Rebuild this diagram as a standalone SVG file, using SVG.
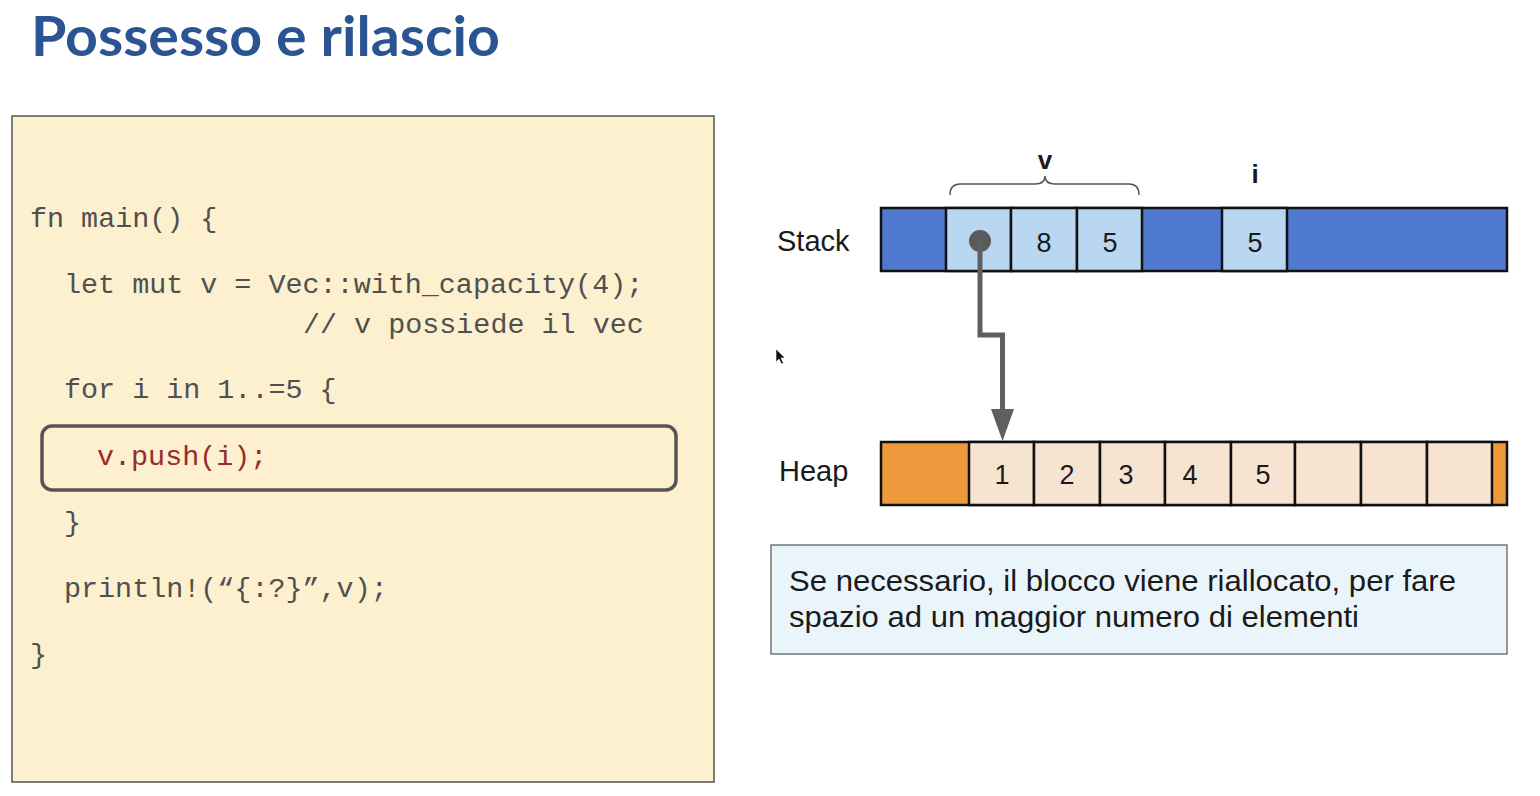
<svg xmlns="http://www.w3.org/2000/svg" width="1540" height="796" viewBox="0 0 1540 796">
  <style>
    .title { font-family: Lato, "Open Sans", sans-serif; font-weight: bold; font-size: 56px; fill: #2b5592; }
    .code { font-family: "Liberation Mono", "DejaVu Sans Mono", monospace; font-size: 28.4px; fill: #505050; }
    .hl { fill: #9b2a2a; }
    .lbl { font-family: "Liberation Sans", Arial, sans-serif; font-size: 29px; fill: #1a1a1a; }
    .num { font-family: "Liberation Sans", Arial, sans-serif; font-size: 27px; fill: #1a1a1a; text-anchor: middle; }
    .var { font-family: "Liberation Sans", Arial, sans-serif; font-size: 26px; font-weight: bold; fill: #1a1a1a; text-anchor: middle; }
    .note { font-family: "Liberation Sans", Arial, sans-serif; font-size: 29px; fill: #1a1a1a; }
    .cell { stroke: #111; stroke-width: 2.5; }
    .dark { fill: #4e79cf; }
    .light { fill: #bad7f2; }
    .orange { fill: #ec9a3b; }
    .peach { fill: #f6e4d0; }
  </style>

  <!-- heading -->
  <text class="title" x="31" y="56" textLength="469" lengthAdjust="spacingAndGlyphs">Possesso e rilascio</text>

  <!-- source listing -->
  <g id="code-panel">
    <rect x="12" y="116" width="702" height="666" fill="#fcf0cf" stroke="#555" stroke-width="1.5"/>
    <text class="code" x="30" y="227">fn main() {</text>
    <text class="code" x="64" y="293">let mut v = Vec::with_capacity(4);</text>
    <text class="code" x="303" y="333">// v possiede il vec</text>
    <text class="code" x="64" y="398">for i in 1..=5 {</text>
    <rect x="42" y="426" width="634" height="64" rx="10" fill="none" stroke="#555" stroke-width="3.5"/>
    <text class="code hl" x="97" y="465">v.push(i);</text>
    <text class="code" x="64" y="531">}</text>
    <text class="code" x="64" y="597">println!(“{:?}”,v);</text>
    <text class="code" x="30" y="663">}</text>
  </g>

  <!-- stack frame -->
  <g id="stack">
    <text class="lbl" x="777" y="251">Stack</text>
    <rect class="dark cell" x="881" y="208" width="626" height="63"/>
    <rect class="light cell" x="946" y="208" width="65" height="63"/>
    <rect class="light cell" x="1011" y="208" width="66" height="63"/>
    <rect class="light cell" x="1077" y="208" width="65" height="63"/>
    <rect class="light cell" x="1222" y="208" width="65" height="63"/>
    <text class="num" x="1044" y="252">8</text>
    <text class="num" x="1110" y="252">5</text>
    <text class="num" x="1255" y="252">5</text>
  </g>

  <!-- variable labels -->
  <g id="var-v">
    <path d="M950,195 Q950,184 960,184 L1035,184 Q1045,184 1045,176 Q1045,184 1055,184 L1129,184 Q1139,184 1139,195" fill="none" stroke="#555" stroke-width="1.5"/>
    <text class="var" x="1045" y="169">v</text>
  </g>
  <g id="var-i">
    <text class="var" x="1255" y="183">i</text>
  </g>

  <!-- heap block -->
  <g id="heap">
    <text class="lbl" x="779" y="481">Heap</text>
    <rect class="orange cell" x="881" y="442" width="626" height="63"/>
    <rect class="peach cell" x="969" y="442" width="65" height="63"/>
    <rect class="peach cell" x="1034" y="442" width="66" height="63"/>
    <rect class="peach cell" x="1100" y="442" width="65" height="63"/>
    <rect class="peach cell" x="1165" y="442" width="66" height="63"/>
    <rect class="peach cell" x="1231" y="442" width="64" height="63"/>
    <rect class="peach cell" x="1295" y="442" width="66" height="63"/>
    <rect class="peach cell" x="1361" y="442" width="66" height="63"/>
    <rect class="peach cell" x="1427" y="442" width="65" height="63"/>
    <text class="num" x="1002" y="484">1</text>
    <text class="num" x="1067" y="484">2</text>
    <text class="num" x="1126" y="484">3</text>
    <text class="num" x="1190" y="484">4</text>
    <text class="num" x="1263" y="484">5</text>
  </g>

  <!-- pointer from v to the heap buffer -->
  <g id="connectors">
    <circle cx="980" cy="241" r="11" fill="#5a5a5a"/>
    <path d="M980,241 V335 H1002.5 V412" fill="none" stroke="#5f5f5f" stroke-width="5"/>
    <polygon points="991,409 1014,409 1002.5,441" fill="#5f5f5f"/>
  </g>

  <!-- explanatory note -->
  <g id="note">
    <rect x="771" y="545" width="736" height="109" fill="#eaf5fb" stroke="#555" stroke-width="1.2"/>
    <text class="note" x="789" y="591" textLength="667" lengthAdjust="spacingAndGlyphs">Se necessario, il blocco viene riallocato, per fare</text>
    <text class="note" x="789" y="627" textLength="570" lengthAdjust="spacingAndGlyphs">spazio ad un maggior numero di elementi</text>
  </g>

  <!-- pointer cursor -->
  <polygon points="776,349 776,362 779,359 781.5,364 783.5,363 781,358 785,358" fill="#111" stroke="#fff" stroke-width="0.6"/>
</svg>
